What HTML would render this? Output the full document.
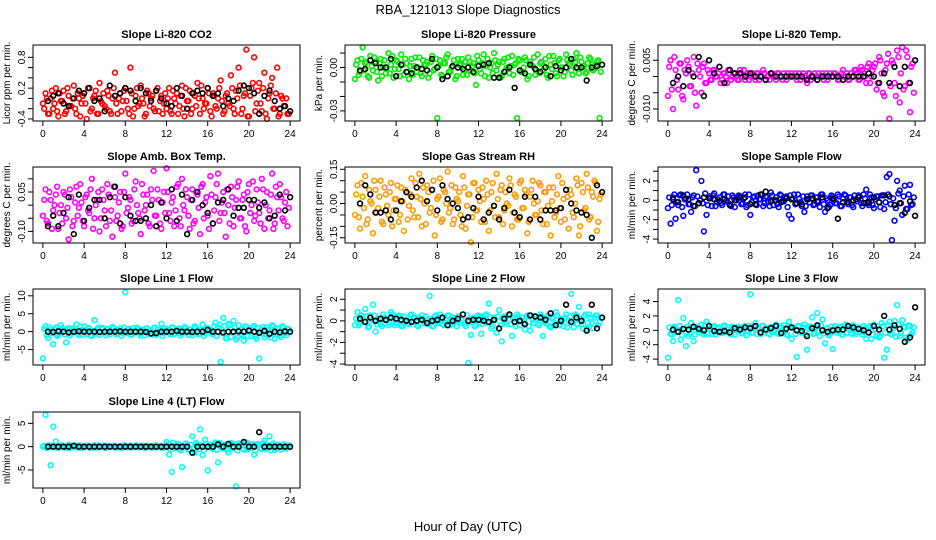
<!DOCTYPE html>
<html><head><meta charset="utf-8">
<style>
html,body{margin:0;padding:0;background:#fff;}
svg{display:block;font-family:"Liberation Sans",sans-serif;}
</style></head>
<body>
<svg id="chart" width="936" height="540" viewBox="0 0 936 540" xmlns="http://www.w3.org/2000/svg">
<text x="468" y="14" text-anchor="middle" font-size="13">RBA_121013  Slope Diagnostics</text>
<text x="468" y="531" text-anchor="middle" font-size="13">Hour of Day (UTC)</text>
</svg>
<script>
const hoursC = [0,0.25,0.5,0.75,1,1.25,1.5,1.75,2,2.25,2.5,2.75,3,3.25,3.5,3.75,4,4.25,4.5,4.75,5,5.25,5.5,5.75,6,6.25,6.5,6.75,7,7.25,7.5,7.75,8,8.25,8.5,8.75,9,9.25,9.5,9.75,10,10.25,10.5,10.75,11,11.25,11.5,11.75,12,12.25,12.5,12.75,13,13.25,13.5,13.75,14,14.25,14.5,14.75,15,15.25,15.5,15.75,16,16.25,16.5,16.75,17,17.25,17.5,17.75,18,18.25,18.5,18.75,19,19.25,19.5,19.75,20,20.25,20.5,20.75,21,21.25,21.5,21.75,22,22.25,22.5,22.75,23,23.25,23.5,23.75];
const hoursC2 = [0.125,0.375,0.625,0.875,1.125,1.375,1.625,1.875,2.125,2.375,2.625,2.875,3.125,3.375,3.625,3.875,4.125,4.375,4.625,4.875,5.125,5.375,5.625,5.875,6.125,6.375,6.625,6.875,7.125,7.375,7.625,7.875,8.125,8.375,8.625,8.875,9.125,9.375,9.625,9.875,10.125,10.375,10.625,10.875,11.125,11.375,11.625,11.875,12.125,12.375,12.625,12.875,13.125,13.375,13.625,13.875,14.125,14.375,14.625,14.875,15.125,15.375,15.625,15.875,16.125,16.375,16.625,16.875,17.125,17.375,17.625,17.875,18.125,18.375,18.625,18.875,19.125,19.375,19.625,19.875,20.125,20.375,20.625,20.875,21.125,21.375,21.625,21.875,22.125,22.375,22.625,22.875,23.125,23.375,23.625,23.875];
const hoursB = [0.5,1,1.5,2,2.5,3,3.5,4,4.5,5,5.5,6,6.5,7,7.5,8,8.5,9,9.5,10,10.5,11,11.5,12,12.5,13,13.5,14,14.5,15,15.5,16,16.5,17,17.5,18,18.5,19,19.5,20,20.5,21,21.5,22,22.5,23,23.5,24];
const xTicks = [0,4,8,12,16,20,24];

const co2C = [-0.1,0.1,-0.3,0.0,-0.2,0.2,-0.35,-0.05,0.15,-0.25,0.05,-0.15,0.25,-0.3,0.0,-0.1,0.1,-0.4,0.2,-0.2,0.05,-0.3,0.3,-0.1,-0.15,0.15,-0.25,0.0,0.5,-0.3,0.1,-0.05,0.2,-0.2,0.6,-0.35,0.05,-0.15,0.25,-0.1,-0.3,0.1,0.0,-0.2,0.15,-0.25,0.05,-0.1,-0.2,0.2,-0.3,0.0,0.1,-0.15,0.25,-0.35,-0.05,0.15,-0.2,0.05,0.3,-0.3,0.0,-0.1,0.2,-0.25,0.1,-0.15,0.0,0.35,-0.3,0.05,-0.1,0.45,-0.2,0.15,0.6,-0.3,0.05,0.95,-0.35,0.2,0.8,-0.1,0.3,-0.25,0.5,-0.4,0.1,0.4,-0.2,0.6,-0.3,0.0,-0.15,-0.3];
const co2C2 = [-0.2,0.0,-0.3,0.15,-0.1,-0.25,0.1,-0.05,-0.3,0.2,-0.15,0.0,-0.2,0.1,-0.35,0.05,-0.1,0.2,-0.25,0.0,0.15,-0.3,-0.05,0.1,-0.2,0.05,-0.3,0.2,-0.1,0.0,-0.25,0.15,-0.05,-0.3,0.1,-0.2,0.2,-0.1,0.0,-0.35,0.15,-0.15,0.05,-0.25,0.2,-0.05,-0.3,0.1,0.0,-0.25,0.15,-0.1,-0.3,0.05,-0.2,0.2,-0.05,-0.3,0.1,-0.15,0.0,0.25,-0.2,-0.1,0.1,-0.35,0.05,-0.2,0.2,-0.05,-0.25,0.1,-0.15,0.2,-0.3,0.0,0.25,-0.2,0.1,-0.35,0.05,0.3,-0.25,0.15,-0.1,0.2,-0.3,0.0,0.25,-0.2,0.1,-0.35,0.05,-0.15,0.0,-0.3];
const co2B = [-0.05,0.05,0.1,-0.1,-0.15,0.0,0.15,0.1,0.2,-0.05,0.0,-0.25,0.25,0.05,0.1,0.2,0.15,-0.05,0.2,0.1,-0.05,0.15,0.0,-0.1,-0.15,0.2,0.05,-0.2,0.1,0.15,0.1,0.2,0.05,0.1,-0.15,0.0,-0.05,0.15,0.25,0.2,0.1,-0.3,0.05,0.15,-0.05,-0.2,-0.15,-0.25];
const presC = [-0.008,0.005,-0.003,0.014,0.003,-0.006,0.008,-0.002,0.004,-0.009,0.006,0.000,-0.004,0.010,0.002,-0.007,0.005,-0.001,0.009,-0.005,0.003,-0.008,0.006,0.001,-0.003,0.007,-0.006,0.002,0.004,-0.004,0.008,-0.001,-0.035,0.005,-0.006,0.003,0.009,-0.003,0.001,-0.008,0.006,0.002,-0.005,0.004,0.007,-0.002,0.003,-0.012,0.005,-0.004,0.009,0.001,-0.007,0.003,0.010,-0.002,0.004,-0.006,0.006,0.000,-0.004,0.008,0.002,-0.035,0.005,-0.003,0.007,-0.008,0.004,0.001,-0.005,0.009,0.003,-0.002,0.006,-0.007,0.002,0.008,-0.004,0.005,0.000,-0.006,0.009,0.003,-0.002,0.006,0.010,-0.004,0.004,0.001,-0.003,0.007,0.002,-0.001,0.004,-0.035];
const presC2 = [0.002,-0.005,0.006,-0.002,0.004,-0.007,0.001,0.007,-0.003,0.003,-0.006,0.005,0.000,-0.004,0.008,-0.001,0.004,-0.006,0.002,0.006,-0.003,0.001,-0.005,0.007,0.000,-0.004,0.005,0.002,-0.007,0.004,-0.002,0.006,0.001,-0.005,0.003,0.007,-0.003,0.000,0.005,-0.006,0.002,0.006,-0.002,-0.005,0.004,0.001,-0.004,0.008,-0.001,0.003,-0.006,0.006,0.000,-0.004,0.005,0.002,-0.007,0.004,-0.002,0.007,0.001,-0.005,0.003,0.006,-0.003,0.000,0.005,-0.006,0.002,0.007,-0.002,-0.004,0.004,0.001,-0.005,0.008,-0.001,0.003,-0.006,0.006,0.000,-0.003,0.005,0.002,-0.005,0.004,-0.001,0.007,0.001,-0.004,0.003,0.006,-0.002,0.000,0.005,-0.003];
const presB = [-0.002,-0.001,0.005,0.003,0.000,0.000,0.006,-0.006,0.002,-0.003,-0.004,0.000,-0.001,-0.002,0.006,0.000,-0.008,-0.006,0.001,0.000,-0.001,0.000,-0.003,0.001,0.002,0.003,-0.007,-0.007,-0.003,0.000,-0.014,-0.002,-0.004,0.002,-0.001,-0.003,0.000,-0.006,0.001,-0.002,0.000,0.006,0.000,0.000,-0.009,0.000,0.001,0.002];
const tempC = [-0.006,0.005,-0.010,0.002,-0.004,0.004,-0.007,0.001,0.003,-0.003,0.006,-0.009,0.002,-0.005,0.004,-0.002,0.001,-0.001,0.002,0.000,0.003,-0.001,0.001,-0.002,0.002,0.000,0.001,-0.001,0.002,0.000,-0.001,0.001,0.000,0.001,-0.001,0.001,0.000,0.002,-0.001,0.000,0.001,0.000,-0.001,0.001,0.000,0.001,-0.001,0.000,0.001,0.000,-0.001,0.001,0.000,0.000,-0.002,0.001,0.000,0.001,-0.001,0.000,0.001,0.000,-0.001,0.001,0.000,0.001,-0.001,0.000,0.002,0.000,-0.001,0.001,0.000,0.002,-0.001,0.003,0.001,-0.002,0.004,0.000,0.003,-0.004,0.006,0.001,-0.006,0.004,-0.013,0.005,-0.002,0.008,-0.008,0.009,-0.003,0.006,-0.011,0.004];
const tempC2 = [0.003,-0.004,0.006,-0.001,0.004,-0.006,0.002,0.005,-0.003,0.001,-0.005,0.004,0.000,0.003,-0.002,0.002,-0.001,0.002,0.000,0.001,-0.002,0.001,0.000,0.002,-0.001,0.001,0.000,-0.001,0.001,0.002,0.000,-0.001,0.001,0.000,0.001,-0.001,0.000,0.001,0.000,-0.001,0.001,0.000,0.001,0.000,-0.001,0.000,0.001,0.000,0.000,0.001,0.000,-0.001,0.001,0.000,0.001,-0.001,0.000,0.000,0.001,0.000,-0.001,0.001,0.000,0.000,0.001,0.000,-0.001,0.001,0.000,0.001,-0.001,0.000,0.002,0.001,-0.001,0.002,0.000,0.003,-0.002,0.002,0.004,-0.002,0.005,-0.005,0.002,0.007,-0.003,0.004,-0.006,0.006,0.001,-0.004,0.008,-0.002,0.003,-0.005];
const tempB = [-0.002,0.000,-0.003,0.002,0.000,0.006,-0.006,0.005,0.001,0.003,-0.002,0.002,0.001,0.001,0.000,0.001,0.000,0.000,-0.001,0.001,0.000,0.000,0.000,0.000,0.000,0.000,-0.001,0.000,-0.001,0.000,0.000,0.000,0.000,-0.001,0.000,0.000,0.000,0.000,0.001,0.000,-0.002,0.001,-0.002,0.003,-0.003,0.003,-0.002,0.005];
const ambC = [-0.04,0.06,-0.07,0.02,-0.02,0.04,-0.09,0.00,0.05,-0.05,-0.13,0.03,-0.06,0.07,-0.01,0.01,-0.08,0.04,-0.03,0.10,-0.05,0.02,-0.10,0.06,-0.02,0.08,-0.06,-0.12,0.03,-0.04,0.05,-0.08,0.12,-0.01,0.02,-0.06,0.09,-0.03,-0.11,0.04,0.00,-0.07,0.06,0.13,-0.04,0.02,-0.09,0.05,0.14,-0.03,0.01,-0.08,0.07,-0.05,0.10,-0.02,0.03,-0.09,0.06,-0.06,0.04,-0.11,0.08,0.01,-0.04,0.11,-0.07,0.03,0.12,-0.03,0.05,-0.12,0.00,0.07,-0.08,0.02,0.09,-0.05,0.04,-0.10,0.08,0.00,-0.06,0.06,-0.03,0.10,-0.09,0.05,-0.02,0.12,-0.07,0.03,0.08,-0.05,0.01,-0.08];
const ambC2 = [0.02,-0.06,0.05,-0.09,0.00,0.07,-0.03,-0.07,0.04,-0.01,0.06,-0.08,0.01,-0.04,0.08,-0.06,0.03,-0.02,0.06,-0.09,0.00,0.05,-0.05,0.02,-0.08,0.04,-0.02,0.07,-0.06,0.01,-0.09,0.05,-0.03,0.03,-0.07,0.06,0.00,-0.05,0.08,-0.02,0.04,-0.08,0.02,-0.04,0.06,-0.07,0.01,-0.03,0.05,-0.06,0.03,-0.02,0.08,-0.08,0.00,0.06,-0.04,0.02,-0.07,0.05,-0.01,0.07,-0.05,0.03,-0.09,0.04,-0.02,0.08,-0.06,0.01,-0.03,0.06,-0.07,0.03,-0.01,0.07,-0.05,0.02,-0.08,0.05,-0.03,0.09,-0.04,0.01,-0.07,0.06,0.00,-0.05,0.04,-0.09,0.07,-0.02,0.03,-0.06,0.05,-0.01];
const ambB = [-0.08,-0.04,-0.08,-0.03,0.03,-0.11,0.04,-0.06,-0.01,0.02,0.02,-0.05,0.03,0.07,-0.07,0.03,-0.04,-0.06,-0.06,-0.05,0.00,-0.08,0.01,-0.05,0.06,-0.06,0.04,-0.11,0.02,0.05,0.0,-0.03,-0.07,0.01,0.02,0.06,-0.04,-0.01,-0.01,0.02,0.02,-0.01,0.01,-0.05,-0.04,0.04,-0.02,0.03];
const rhC = [-0.05,0.08,-0.11,0.03,0.12,-0.07,0.01,-0.13,0.06,-0.02,0.10,-0.09,0.04,-0.05,0.09,-0.03,0.02,-0.08,0.07,-0.12,0.05,-0.01,0.11,-0.06,0.03,0.13,-0.10,0.00,0.08,-0.04,0.06,-0.14,0.02,0.11,-0.07,0.05,0.14,-0.02,-0.09,0.07,0.01,-0.05,0.12,-0.11,0.04,-0.17,0.09,-0.03,0.06,-0.08,0.02,0.10,-0.12,0.05,-0.01,0.13,-0.06,0.08,-0.03,0.00,0.11,-0.10,0.04,-0.07,0.09,-0.02,0.06,-0.13,0.03,0.10,-0.05,0.01,0.08,-0.09,0.05,-0.01,-0.14,0.07,-0.04,0.12,-0.08,0.02,0.06,-0.11,0.04,-0.06,0.11,-0.14,0.09,-0.03,0.13,-0.07,0.05,0.10,-0.12,0.02];
const rhC2 = [0.04,-0.06,0.09,-0.02,-0.09,0.06,0.00,0.10,-0.04,0.03,-0.08,0.07,-0.01,0.05,-0.10,0.02,0.08,-0.05,0.01,0.06,-0.07,0.04,-0.03,0.09,-0.06,0.02,0.07,-0.09,0.05,-0.02,0.10,-0.05,0.03,-0.08,0.06,0.00,-0.04,0.08,-0.07,0.02,0.05,-0.10,0.07,-0.01,0.04,-0.06,0.09,-0.03,0.01,0.07,-0.08,0.04,-0.03,0.09,-0.06,0.02,0.06,-0.09,0.05,-0.01,0.08,-0.04,0.03,-0.07,0.10,-0.02,0.04,-0.08,0.06,0.00,-0.05,0.09,-0.03,0.05,-0.09,0.07,0.01,-0.06,0.04,-0.02,0.09,-0.07,0.03,0.06,-0.04,0.00,0.08,-0.10,0.05,-0.02,0.07,-0.06,0.03,0.09,-0.08,0.04];
const rhB = [0.00,0.08,0.04,-0.04,-0.04,-0.03,-0.07,-0.03,0.01,0.05,0.03,0.07,0.10,0.01,0.06,-0.03,0.08,0.02,0.00,-0.02,-0.07,-0.06,-0.02,0.03,-0.07,-0.04,-0.01,-0.07,-0.02,0.06,-0.04,-0.06,0.03,-0.07,0.03,-0.07,-0.03,-0.03,-0.03,-0.02,0.06,0.00,-0.03,-0.04,-0.05,-0.15,0.08,0.05];
const sampC = [-0.8,-2.4,0.3,-1.9,-0.5,0.6,-1.6,0.2,-0.4,-1.2,0.5,3.1,-0.3,2.0,-3.2,-1.5,0.4,-0.6,0.7,-0.2,0.3,-0.5,0.6,0.0,-0.4,0.5,-0.7,0.2,0.4,-0.3,0.6,-0.5,-1.5,0.3,-0.4,0.5,0.1,-0.6,0.4,-0.2,0.8,-0.5,0.3,-0.7,0.5,-0.1,0.4,-1.5,-1.9,0.6,-0.3,0.2,-0.6,-1.2,0.4,-0.2,0.5,-0.4,0.3,-0.7,0.6,-1.2,0.0,-0.5,0.4,-0.3,0.6,-0.6,0.2,0.5,-0.4,0.3,-0.7,0.1,0.5,-0.3,0.6,1.1,-0.5,0.3,-0.8,0.4,-0.2,0.5,-0.9,2.4,2.7,-4.1,-2.1,2.0,1.0,-1.5,1.5,-0.9,1.6,-0.4];
const sampC2 = [0.3,-0.5,0.6,-0.2,0.5,-0.7,0.1,0.6,-0.4,0.3,-0.6,0.4,0.0,-0.3,0.7,-0.5,0.2,0.5,-0.6,0.1,-0.3,0.6,-0.1,0.4,-0.6,0.3,0.0,0.5,-0.4,0.2,-0.7,0.6,-0.2,0.4,-0.5,0.1,0.6,-0.3,0.3,-0.6,0.5,0.0,-0.4,0.6,-0.1,0.3,-0.7,0.5,0.2,-0.4,0.6,-0.2,0.4,-0.6,0.1,0.5,-0.5,0.3,-0.1,0.6,-0.4,0.2,-0.7,0.5,0.0,-0.3,0.4,-0.6,0.6,-0.2,0.3,-0.5,0.5,-0.1,0.4,-0.6,0.2,-0.3,0.6,-0.5,0.1,0.4,-0.7,0.5,-0.2,0.6,-0.4,0.2,-0.8,0.7,-0.3,0.4,-0.9,0.6,-0.5,0.3];
const sampB = [0.1,-0.2,0.5,0.1,-0.6,-0.3,0.3,0.2,0.1,-0.1,0.1,-0.5,0.0,0.3,0.3,-0.4,-0.4,0.6,0.9,-0.1,0.0,-0.2,0.2,0.1,-0.3,-0.4,0.1,0.2,-0.1,0.3,-0.8,0.2,-1.9,-0.2,-0.2,0.0,0.3,-0.3,-0.2,0.3,-0.2,0.5,0.4,-0.5,-0.3,-1.3,-0.1,-1.6];
const l1C = [-7.5,1.5,-1.8,0.5,-3.5,1.2,-0.8,1.8,0.3,-3.0,1.0,-0.5,0.8,2.0,-1.0,0.4,1.5,-0.6,0.9,-1.2,3.2,0.6,-0.9,1.1,-0.3,0.8,-0.7,1.3,0.2,-0.5,0.9,-0.4,11.0,0.5,-0.8,1.0,-0.2,0.7,-1.1,0.4,0.9,-0.6,0.3,1.0,-0.9,0.5,2.2,-0.4,0.8,-0.3,1.2,-0.7,0.4,0.9,-0.5,1.3,-0.2,0.6,-1.0,1.5,0.2,-0.6,2.0,-0.4,1.0,0.5,-0.8,2.5,1.2,-8.5,3.8,-1.8,2.2,-1.5,3.0,-2.2,1.8,-0.8,-2.5,1.4,0.5,-1.2,1.6,-2.0,-7.5,0.6,-1.6,1.2,-0.5,1.8,-2.0,0.9,-1.0,1.5,-0.4,0.8];
const l1C2 = [0.8,-1.0,1.2,-0.4,0.6,-1.2,0.2,1.0,-0.8,0.5,-1.1,0.9,0.0,-0.6,1.3,-0.9,0.4,1.0,-1.1,0.2,-0.5,1.1,-0.2,0.8,-1.0,0.6,0.0,1.0,-0.8,0.4,-1.2,1.1,-0.4,0.8,-0.9,0.2,1.1,-0.5,0.6,-1.1,0.9,0.0,-0.8,1.1,-0.2,0.6,-1.2,0.9,0.4,-0.8,1.1,-0.4,0.8,-1.1,0.2,1.0,-0.9,0.6,-0.2,1.1,-0.8,0.4,-1.2,1.0,0.0,-0.6,1.5,-1.2,2.0,-0.4,1.6,-1.8,1.8,-0.2,1.2,-1.6,0.6,-1.0,1.5,-1.3,0.2,1.2,-1.4,1.0,-0.4,1.3,-0.8,0.5,-1.6,1.4,-0.6,0.8,-1.5,1.2,-1.0,0.6];
const l1B = [0,-0.1,0.1,0,-0.2,0,0.1,0,0,0,-0.1,0,0,0,0.1,0,0,0,0,-0.1,-0.5,-0.4,0,0,0,0.2,0,0,-0.1,0,0,0.5,0,0,-0.2,0,0,0.1,0,0.3,0,-0.3,0.2,-0.6,0,-0.2,0.1,0];
const l2C = [-0.4,0.8,-0.2,0.3,1.1,-0.6,0.5,1.5,-1.0,0.2,-0.3,0.6,0.1,-0.4,0.8,0.3,-0.2,0.5,-0.5,0.4,0.0,-0.3,0.6,0.2,-0.4,0.3,0.5,-0.2,0.1,2.3,-0.5,0.4,-0.1,0.6,-0.3,0.2,0.5,-0.4,0.3,0.0,0.4,-0.2,0.6,-0.5,-3.9,-1.3,0.3,-0.4,0.5,-1.2,0.2,0.6,1.6,-0.7,0.3,-1.1,1.0,-1.9,0.4,-0.3,0.5,-1.4,0.2,0.6,-0.4,0.3,-0.8,0.5,-0.9,0.1,0.4,-0.3,0.6,-1.4,-0.2,0.5,-0.6,0.3,0.8,-0.4,0.2,-0.5,0.6,0.0,2.5,-0.6,0.5,1.3,-0.3,0.4,-0.7,0.6,-0.2,0.3,0.5,-0.1];
const l2C2 = [0.2,-0.4,0.5,-0.1,0.4,-0.5,0.1,0.5,-0.3,0.2,-0.5,0.3,0.0,-0.2,0.6,-0.4,0.2,0.4,-0.5,0.1,-0.2,0.5,-0.1,0.3,-0.5,0.2,0.0,0.4,-0.3,0.2,-0.5,0.5,-0.2,0.3,-0.4,0.1,0.5,-0.2,0.2,-0.5,0.4,0.0,-0.3,0.5,-0.1,0.2,-0.5,0.4,0.2,-0.3,0.5,-0.2,0.3,-0.5,0.1,0.4,-0.4,0.2,-0.1,0.5,-0.3,0.2,-0.5,0.4,0.0,-0.2,0.3,-0.5,0.5,-0.2,0.2,-0.4,0.4,-0.1,0.3,-0.5,0.2,-0.2,0.5,-0.4,0.1,0.3,-0.6,0.4,-0.2,0.6,-0.3,0.2,-0.7,0.6,-0.2,0.3,-0.7,0.5,-0.4,0.3];
const l2B = [0.2,-0.1,0.3,0.0,0.2,0.1,0.3,0.2,0.1,0.0,-0.1,0.0,0.1,-0.2,0.0,0.1,0.3,-0.4,0.0,0.2,0.6,0.0,0.1,0.1,0.0,-0.1,0.1,-0.7,0.2,0.6,-0.1,0.0,-0.3,0.5,0.4,0.3,0.1,0.7,-0.4,0.0,1.5,-0.1,0.3,0.0,-0.9,1.5,-0.7,0.3];
const l3C = [-3.8,-0.5,-1.5,0.3,4.2,-1.3,1.7,-2.2,-0.8,1.0,-1.5,0.4,-0.3,0.8,-0.6,1.2,0.2,-0.5,0.6,-0.2,0.4,-0.4,0.7,0.1,-0.3,0.5,-0.6,0.3,0.2,-0.4,0.6,0.0,5.0,-0.3,1.0,0.4,-0.5,0.6,0.2,-0.4,0.5,-0.2,0.8,-0.5,0.3,0.7,-0.6,1.2,-1.2,0.4,-3.7,0.6,-0.3,0.8,-2.7,0.5,1.8,-0.4,2.4,-0.8,1.5,-1.8,0.3,-0.5,-2.6,0.6,-0.3,0.5,-0.6,0.8,0.2,-0.4,0.7,-0.5,0.3,-0.2,0.6,-1.2,0.4,-1.2,0.8,-0.8,-1.0,1.0,-3.8,-2.7,1.2,-0.6,1.3,3.5,-0.8,1.4,0.4,-1.3,0.6,-0.3];
const l3C2 = [0.4,-0.6,0.5,-0.2,0.6,-0.7,0.2,0.5,-0.5,0.3,-0.6,0.5,0.0,-0.4,0.7,-0.5,0.3,0.5,-0.6,0.2,-0.3,0.6,-0.2,0.4,-0.6,0.3,0.1,0.5,-0.4,0.2,-0.7,0.6,-0.3,0.4,-0.5,0.2,0.6,-0.3,0.3,-0.6,0.5,0.0,-0.4,0.6,-0.2,0.3,-0.7,0.5,0.3,-0.5,0.6,-0.3,0.4,-0.6,0.2,0.5,-0.5,0.4,-0.1,0.7,-0.4,0.2,-0.7,0.5,0.1,-0.3,0.4,-0.6,0.6,-0.3,0.3,-0.5,0.5,-0.2,0.4,-0.6,0.3,-0.3,0.6,-0.6,0.2,0.5,-0.8,0.6,-0.3,0.7,-0.5,0.3,-0.9,0.8,-0.4,0.5,-1.0,0.7,-0.6,0.4];
const l3B = [0.1,-0.2,0.2,0.1,0.5,0.2,0.0,0.6,-0.1,-0.2,-0.1,-0.3,0.3,0.1,0.4,0.3,0.6,-0.3,0.1,0.3,0.6,-0.4,0.2,0.4,0.0,-0.1,-0.8,0.3,0.7,0.0,-0.2,0.0,0.1,0.1,0.6,0.4,0.2,0.0,-0.3,0.6,0.1,2.0,0.1,0.7,0.2,-1.6,-1.0,3.2];
const l4C = [0.0,6.8,0.2,-4.0,4.3,1.1,-0.3,0.3,0.0,-0.2,0.4,0.1,-0.1,0.2,0.0,-0.3,0.1,0.2,-0.1,0.0,0.3,-0.2,0.1,0.0,-0.1,0.2,0.0,0.1,-0.2,0.0,0.1,0.0,0.0,-0.1,0.2,0.0,0.1,-0.1,0.0,0.2,-0.1,0.0,0.1,-0.2,0.0,0.1,0.0,-0.1,1.0,-1.7,-5.4,0.2,0.6,-0.5,-4.4,0.0,0.3,-0.6,2.2,-1.3,0.5,3.7,-1.8,1.5,-5.1,0.4,-0.5,0.9,-3.4,0.6,-0.4,0.2,-1.2,0.8,-0.3,-8.5,0.7,0.4,-0.6,0.9,-0.3,0.5,-1.7,0.2,0.4,-0.5,1.3,-0.2,2.2,0.3,-0.7,0.2,0.0,-0.1,0.1,0.0];
const l4C2 = [0.2,-0.3,0.3,-0.1,0.2,-0.3,0.1,0.3,-0.2,0.1,-0.3,0.2,0.0,-0.2,0.3,-0.2,0.1,0.2,-0.3,0.1,-0.1,0.3,-0.1,0.2,-0.3,0.1,0.0,0.2,-0.2,0.1,-0.3,0.3,-0.1,0.2,-0.2,0.1,0.3,-0.1,0.1,-0.3,0.2,0.0,-0.2,0.3,-0.1,0.1,-0.3,0.2,0.5,-0.6,0.8,-0.3,0.6,-0.8,0.2,0.7,-0.7,0.4,-0.2,0.8,-0.5,0.3,-0.8,0.6,0.0,-0.4,0.5,-0.7,0.8,-0.3,0.4,-0.6,0.6,-0.2,0.5,-0.8,0.3,-0.4,0.8,-0.6,0.2,0.5,-0.8,0.6,-0.3,0.7,-0.5,0.3,-0.8,0.7,-0.3,0.4,-0.6,0.5,-0.4,0.3];
const l4B = [0,0,0,0,0,0.2,0,0,0,0,0,0,0,0,0,0,0,0,0,0,0,0,0,0,0,0,0,0,-1.3,0,0,0,0,0.5,0,0.6,0,0,1.0,0,0,3.1,0,0,0,0,0,0];

const panels = [
 {name:'co2',title:'Slope Li-820 CO2',ylab:'Licor ppm per min.',col:0,row:0,ymin:-0.44,ymax:1.04,ticks:[-0.4,-0.2,0,0.2,0.4,0.6,0.8],labels:[[-0.4,'-0.4'],[0.2,'0.2'],[0.8,'0.8']],color:'#ff0000',c:co2C,c2:co2C2,b:co2B},
 {name:'pressure',title:'Slope Li-820 Pressure',ylab:'kPa per min.',col:1,row:0,ymin:-0.037,ymax:0.0156,ticks:[-0.03,-0.02,-0.01,0,0.01],labels:[[-0.03,'-0.03'],[0,'0.00']],color:'#00ee00',c:presC,c2:presC2,b:presB},
 {name:'licor-temp',title:'Slope Li-820 Temp.',ylab:'degrees C per min.',col:2,row:0,ymin:-0.0137,ymax:0.0097,ticks:[-0.01,-0.005,0,0.005],labels:[[-0.01,'-0.010'],[0.005,'0.005']],color:'#ff00ff',c:tempC,c2:tempC2,b:tempB},
 {name:'amb-box-temp',title:'Slope Amb. Box Temp.',ylab:'degrees C per min.',col:0,row:1,ymin:-0.144,ymax:0.145,ticks:[-0.1,-0.05,0,0.05,0.1],labels:[[-0.1,'-0.10'],[0.05,'0.05']],color:'#ff00ff',c:ambC,c2:ambC2,b:ambB},
 {name:'gas-stream-rh',title:'Slope Gas Stream RH',ylab:'percent per min.',col:1,row:1,ymin:-0.173,ymax:0.16,ticks:[-0.15,-0.1,-0.05,0,0.05,0.1,0.15],labels:[[-0.15,'-0.15'],[0,'0.00'],[0.15,'0.15']],color:'#ff9a00',c:rhC,c2:rhC2,b:rhB},
 {name:'sample-flow',title:'Slope Sample Flow',ylab:'ml/min per min.',col:2,row:1,ymin:-4.4,ymax:3.43,ticks:[-4,-3,-2,-1,0,1,2,3],labels:[[-4,'-4'],[-2,'-2'],[0,'0'],[2,'2']],color:'#0000ff',c:sampC,c2:sampC2,b:sampB},
 {name:'line1-flow',title:'Slope Line 1 Flow',ylab:'ml/min per min.',col:0,row:2,ymin:-9.3,ymax:11.9,ticks:[-5,0,5,10],labels:[[-5,'-5'],[0,'0'],[5,'5'],[10,'10']],color:'#00ffff',c:l1C,c2:l1C2,b:l1B},
 {name:'line2-flow',title:'Slope Line 2 Flow',ylab:'ml/min per min.',col:1,row:2,ymin:-4.09,ymax:2.95,ticks:[-4,-3,-2,-1,0,1,2],labels:[[-4,'-4'],[-2,'-2'],[0,'0'],[2,'2']],color:'#00ffff',c:l2C,c2:l2C2,b:l2B},
 {name:'line3-flow',title:'Slope Line 3 Flow',ylab:'ml/min per min.',col:2,row:2,ymin:-4.82,ymax:5.74,ticks:[-4,-2,0,2,4],labels:[[-4,'-4'],[-2,'-2'],[0,'0'],[2,'2'],[4,'4']],color:'#00ffff',c:l3C,c2:l3C2,b:l3B},
 {name:'line4-flow',title:'Slope Line 4 (LT) Flow',ylab:'ml/min per min.',col:0,row:3,ymin:-8.86,ymax:7.43,ticks:[-5,0,5],labels:[[-5,'-5'],[0,'0'],[5,'5']],color:'#00ffff',c:l4C,c2:l4C2,b:l4B}
];

const NS='http://www.w3.org/2000/svg';
const svg=document.getElementById('chart');
const colX=[33,345,658], rowY=[45,167,289,412], W=267, H=76;
function mk(tag,attrs,parent){const e=document.createElementNS(NS,tag);for(const k in attrs)e.setAttribute(k,attrs[k]);parent.appendChild(e);return e;}

panels.forEach(p=>{
  const x0=colX[p.col], y0=rowY[p.row];
  const g=mk('g',{},svg);
  
  
  const xs=h=>x0+W*(h+0.96)/25.92;
  const ys=v=>y0+H*(p.ymax-v)/(p.ymax-p.ymin);
  const pts=mk('g',{fill:'none','stroke-width':1.6},g);
  
  
  p.c2.forEach((v,i)=>{
    const c=mk('circle',{cx:xs(hoursC2[i]).toFixed(1),cy:ys(v).toFixed(1),r:2.4,stroke:p.color},pts);
    
    
  });
  p.c.forEach((v,i)=>{
    const c=mk('circle',{cx:xs(hoursC[i]).toFixed(1),cy:ys(v).toFixed(1),r:2.4,stroke:p.color},pts);
    
    
  });
  p.b.forEach((v,i)=>{
    const c=mk('circle',{cx:xs(hoursB[i]).toFixed(1),cy:ys(v).toFixed(1),r:2.4,stroke:'#000'},pts);
    
    
  });
  const box=mk('rect',{x:x0,y:y0,width:W,height:H,fill:'none',stroke:'#000','stroke-width':1},g);
  
  
  const t=mk('text',{x:x0+W/2,y:y0-7,'text-anchor':'middle','font-size':11,'font-weight':'bold'},g);
  t.textContent=p.title;
  
  
  xTicks.forEach(h=>{
    const X=xs(h);
    mk('line',{x1:X,x2:X,y1:y0+H,y2:y0+H+5,stroke:'#000'},g);
    const l=mk('text',{x:X,y:y0+H+16,'text-anchor':'middle','font-size':10},g);
    l.textContent=h;
    
    
  });
  p.ticks.forEach(v=>{
    const Y=ys(v);
    mk('line',{x1:x0-5,x2:x0,y1:Y,y2:Y,stroke:'#000'},g);
  });
  p.labels.forEach(([v,s])=>{
    const Y=ys(v), X=x0-8;
    const l=mk('text',{x:X,y:Y,'text-anchor':'middle','font-size':10,transform:`rotate(-90 ${X} ${Y})`},g);
    l.textContent=s;
    
    
  });
  const YL=x0-23, YC=y0+H/2;
  const yl=mk('text',{x:YL,y:YC,'text-anchor':'middle','font-size':10,transform:`rotate(-90 ${YL} ${YC})`},g);
  yl.textContent=p.ylab;
  
  
});
</script>
</body></html>
